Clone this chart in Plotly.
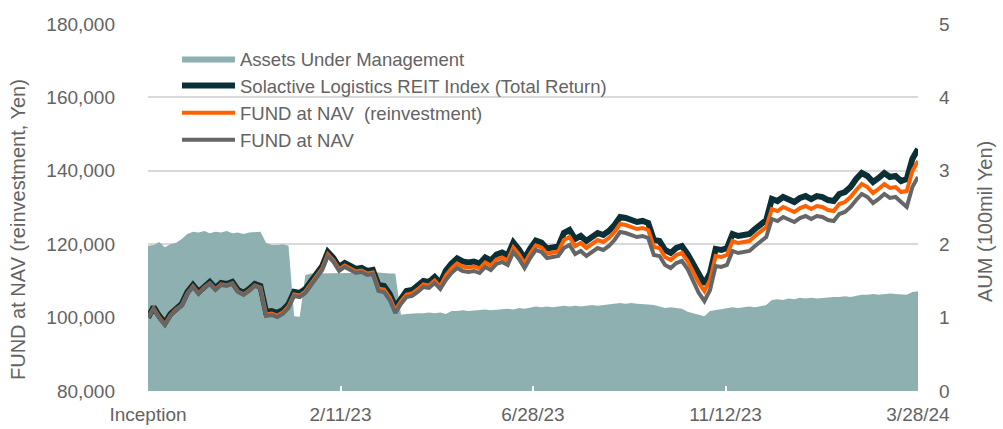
import pandas as pd
import plotly.graph_objects as go

# Observation dates: every 4 days from inception (2022-09-27) to 2024-03-28
dates = pd.date_range("2022-09-27", periods=138, freq="4D")

# Solactive Logistics REIT Index (Total Return), rebased to 100,000 yen
index_tr = [
    100000, 102890, 100440, 98530, 100990, 102620, 103710, 106980, 108890, 106980,
    108620, 109710, 108070, 109430, 109160, 109710, 107530, 106710, 107800, 109160,
    108620, 101530, 101800, 101250, 102070, 103710, 106980, 106700, 107790, 109970,
    112150, 114060, 117880, 116240, 113790, 114880, 114060, 113240, 113520, 112700,
    112980, 108880, 108610, 106430, 102880, 105340, 107240, 107520, 108610, 109970,
    109700, 111060, 109420, 112840, 114740, 116110, 115290, 115020, 115290, 114740,
    116380, 115560, 117200, 117740, 116920, 120470, 118560, 116110, 118830, 121010,
    120470, 118830, 119110, 119380, 123050, 123870, 121420, 122240, 120880, 121970,
    123050, 122510, 123600, 125230, 127410, 127140, 126600, 126050, 126330, 125780,
    121150, 120880, 118420, 117610, 118970, 119510, 117330, 114330, 111330, 109150,
    112150, 118690, 118420, 118960, 122780, 122230, 122510, 122780, 124140, 125230,
    126590, 132310, 131760, 132850, 132030, 131490, 132580, 133120, 132300, 133120,
    132850, 132030, 131760, 133670, 134210, 135580, 137760, 139400, 138580, 136950,
    138040, 139400, 138310, 138580, 137220, 137770, 143220, 145940,
]

# FUND at NAV with distributions reinvested
nav_reinvest = [
    100000, 102480, 100030, 98120, 100580, 102210, 103300, 106570, 108480, 106570,
    108210, 109300, 107660, 109020, 108750, 109300, 107120, 106300, 107390, 108750,
    108210, 100850, 101120, 100570, 101390, 103030, 106300, 106020, 107110, 109290,
    111470, 113380, 117200, 115560, 113110, 114200, 113380, 112560, 112840, 112020,
    112300, 107930, 107660, 105480, 101930, 104390, 106290, 106570, 107660, 109020,
    108750, 110110, 108470, 111480, 113380, 114750, 113930, 113660, 113930, 113380,
    115020, 114200, 115840, 116380, 115560, 119110, 117200, 114750, 117470, 119650,
    119110, 117470, 117750, 118020, 121140, 121960, 119510, 120330, 118970, 120060,
    121140, 120600, 121690, 123320, 125500, 125230, 124690, 124140, 124420, 123870,
    119240, 118970, 116510, 115700, 117060, 117600, 115420, 112420, 109420, 107240,
    110240, 116780, 116510, 117050, 120870, 120320, 120600, 120870, 122230, 123320,
    124680, 129590, 129040, 130130, 129310, 128770, 129860, 130400, 129580, 130400,
    130130, 129310, 129040, 130950, 131490, 132860, 134760, 136400, 135580, 133950,
    135040, 136400, 135310, 135580, 134220, 134500, 139950, 142670,
]

# FUND at NAV
nav = [
    100000, 102340, 99890, 97980, 100440, 102070, 103160, 106430, 108340, 106430,
    108070, 109160, 107520, 108880, 108610, 109160, 106980, 106160, 107250, 108610,
    108070, 100440, 100710, 100160, 100980, 102620, 105890, 105610, 106700, 108880,
    111060, 112970, 116790, 115150, 112700, 113790, 112970, 112150, 112430, 111610,
    111890, 107250, 106980, 104800, 101250, 103710, 105610, 105890, 106980, 108340,
    108070, 109430, 107790, 110250, 112150, 113520, 112700, 112430, 112700, 112150,
    113790, 112970, 114610, 115150, 114330, 117880, 115970, 113520, 116240, 118420,
    117880, 116240, 116520, 116790, 118960, 119780, 117330, 118150, 116790, 117880,
    118960, 118420, 119510, 121140, 123320, 123050, 122510, 121960, 122240, 121690,
    117060, 116790, 114330, 113520, 114880, 115420, 113240, 109700, 106700, 104520,
    107520, 114060, 113790, 114330, 118150, 117600, 117880, 118150, 119510, 120600,
    121960, 126870, 126320, 127410, 126590, 126050, 127140, 127680, 126860, 127680,
    127410, 126590, 126320, 128230, 128770, 130140, 132040, 133680, 132860, 131230,
    132320, 133680, 132590, 132860, 131500, 130140, 135590, 138310,
]

# Assets under management, 100 million yen
aum = [
    1.98, 1.99, 2.03, 1.96, 2.00, 2.02, 2.07, 2.14, 2.17, 2.16,
    2.18, 2.15, 2.17, 2.16, 2.18, 2.15, 2.16, 2.14, 2.16, 2.17,
    2.17, 2.02, 1.99, 1.99, 2.00, 1.98, 1.02, 1.01, 1.58, 1.60,
    1.60, 1.61, 1.60, 1.61, 1.60, 1.60, 1.61, 1.61, 1.60, 1.61,
    1.62, 1.61, 1.61, 1.60, 1.60, 1.04, 1.05, 1.06, 1.06, 1.06,
    1.07, 1.06, 1.07, 1.05, 1.09, 1.09, 1.10, 1.09, 1.10, 1.10,
    1.11, 1.10, 1.11, 1.11, 1.12, 1.11, 1.13, 1.12, 1.14, 1.15,
    1.14, 1.15, 1.14, 1.15, 1.16, 1.15, 1.16, 1.15, 1.16, 1.17,
    1.16, 1.17, 1.18, 1.19, 1.20, 1.19, 1.20, 1.19, 1.19, 1.18,
    1.17, 1.15, 1.13, 1.14, 1.13, 1.12, 1.08, 1.06, 1.04, 1.02,
    1.09, 1.10, 1.11, 1.12, 1.14, 1.13, 1.14, 1.15, 1.14, 1.15,
    1.17, 1.24, 1.25, 1.24, 1.26, 1.25, 1.27, 1.26, 1.27, 1.26,
    1.27, 1.27, 1.28, 1.28, 1.29, 1.28, 1.30, 1.31, 1.31, 1.32,
    1.31, 1.32, 1.33, 1.32, 1.32, 1.31, 1.35, 1.36,
]

# X-axis tick positions and labels
tick_dates = ["2022-09-27", "2023-02-11", "2023-06-28", "2023-11-12", "2024-03-28"]
tick_labels = ["Inception", "2/11/23", "6/28/23", "11/12/23", "3/28/24"]

FONT = "Liberation Sans, Arial, sans-serif"
TEXT = "#636363"

fig = go.Figure()

fig.add_trace(go.Scatter(
    x=dates, y=aum, name="Assets Under Management", yaxis="y",
    mode="lines", fill="tozeroy", fillcolor="#8EB0B0",
    line=dict(width=0, color="#8EB0B0"),
))
fig.add_trace(go.Scatter(
    x=dates, y=index_tr, name="Solactive Logistics REIT Index (Total Return)",
    yaxis="y2", mode="lines", line=dict(color="#0B2F36", width=6),
))
fig.add_trace(go.Scatter(
    x=dates, y=nav_reinvest, name="FUND at NAV\u00a0 (reinvestment)",
    yaxis="y2", mode="lines", line=dict(color="#FF6100", width=4),
))
fig.add_trace(go.Scatter(
    x=dates, y=nav, name="FUND at NAV",
    yaxis="y2", mode="lines", line=dict(color="#666666", width=4),
))

fig.update_layout(
    width=1003, height=429,
    margin=dict(l=148, r=85, t=24, b=38),
    paper_bgcolor="white", plot_bgcolor="white",
    font=dict(family=FONT, size=19, color=TEXT),
    showlegend=True,
    legend=dict(
        x=(177 - 148) / 770, y=(391 - 40) / 367, xanchor="left", yanchor="top",
        bgcolor="rgba(0,0,0,0)", borderwidth=0, itemwidth=53,
        font=dict(family=FONT, size=18.5, color=TEXT),
        traceorder="normal",
    ),
    xaxis=dict(
        type="date", range=[tick_dates[0], tick_dates[-1]],
        tickvals=tick_dates, ticktext=tick_labels,
        ticks="inside", ticklen=5, tickwidth=2, tickcolor="white",
        showgrid=False, showline=False, zeroline=False,
        ticklabelstandoff=10, layer="above traces", automargin=False,
    ),
    yaxis=dict(
        side="right", range=[0, 5], tickvals=[0, 1, 2, 3, 4, 5],
        showgrid=False, zeroline=False, showline=False, ticks="",
        ticklabelstandoff=20, automargin=False,
    ),
    yaxis2=dict(
        overlaying="y", side="left", range=[80000, 180000],
        tickvals=[80000, 100000, 120000, 140000, 160000, 180000],
        tickformat=",", showgrid=True, gridcolor="#D9D9D9", gridwidth=2,
        zeroline=False, showline=False, ticks="", ticklabelstandoff=32,
        automargin=False,
    ),
    annotations=[
        dict(text="FUND at NAV (reinvestment, Yen)", textangle=-90,
             xref="paper", yref="paper", x=(18 - 148) / 770, y=(391 - 230) / 367,
             xanchor="center", yanchor="middle", showarrow=False,
             font=dict(family=FONT, size=20, color=TEXT)),
        dict(text="AUM (100mil Yen)", textangle=-90,
             xref="paper", yref="paper", x=(985 - 148) / 770, y=(391 - 222) / 367,
             xanchor="center", yanchor="middle", showarrow=False,
             font=dict(family=FONT, size=20, color=TEXT)),
    ],
)

fig.write_html("out.html")
